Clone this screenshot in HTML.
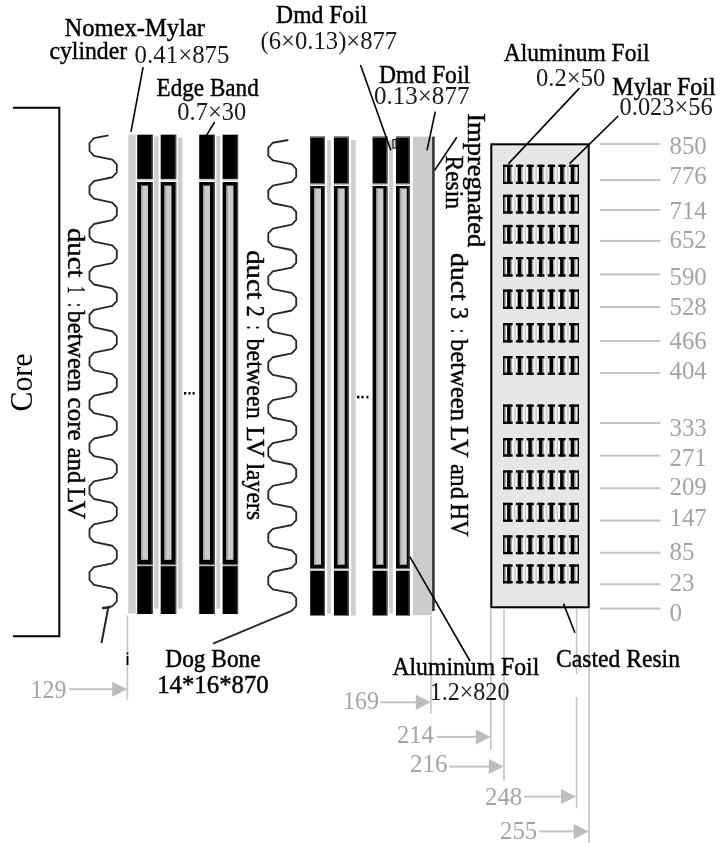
<!DOCTYPE html>
<html><head><meta charset="utf-8"><style>
html,body{margin:0;padding:0;background:#fff;width:723px;height:843px;overflow:hidden}
svg{display:block;filter:grayscale(100%)}

</style></head><body>
<svg width="723" height="843" viewBox="0 0 723 843"><path d="M13 107.7 H59.3 V636.3 H13" fill="none" stroke="#000" stroke-width="2"/>
<text transform="translate(32.4,411.5) rotate(-90)" font-family="Liberation Serif"   font-size="32" textLength="58" lengthAdjust="spacingAndGlyphs">Core</text>
<path d="M108.50 135.30 L94.00 138.20 L89.50 143.00 L89.50 151.00 L94.00 155.80 L112.30 159.65 L116.80 164.45 L116.80 172.45 L112.30 177.25 L94.00 181.10 L89.50 185.90 L89.50 193.90 L94.00 198.70 L112.30 202.55 L116.80 207.35 L116.80 215.35 L112.30 220.15 L94.00 224.00 L89.50 228.80 L89.50 236.80 L94.00 241.60 L112.30 245.45 L116.80 250.25 L116.80 258.25 L112.30 263.05 L94.00 266.90 L89.50 271.70 L89.50 279.70 L94.00 284.50 L112.30 288.35 L116.80 293.15 L116.80 301.15 L112.30 305.95 L94.00 309.80 L89.50 314.60 L89.50 322.60 L94.00 327.40 L112.30 331.25 L116.80 336.05 L116.80 344.05 L112.30 348.85 L94.00 352.70 L89.50 357.50 L89.50 365.50 L94.00 370.30 L112.30 374.15 L116.80 378.95 L116.80 386.95 L112.30 391.75 L94.00 395.60 L89.50 400.40 L89.50 408.40 L94.00 413.20 L112.30 417.05 L116.80 421.85 L116.80 429.85 L112.30 434.65 L94.00 438.50 L89.50 443.30 L89.50 451.30 L94.00 456.10 L112.30 459.95 L116.80 464.75 L116.80 472.75 L112.30 477.55 L94.00 481.40 L89.50 486.20 L89.50 494.20 L94.00 499.00 L112.30 502.85 L116.80 507.65 L116.80 515.65 L112.30 520.45 L94.00 524.30 L89.50 529.10 L89.50 537.10 L94.00 541.90 L112.30 545.75 L116.80 550.55 L116.80 558.55 L112.30 563.35 L94.00 567.20 L89.50 572.00 L89.50 580.00 L94.00 584.80 L112.30 588.65 L116.80 593.45 L116.80 601.45 L112.30 606.25 L102.3 608.5" fill="none" stroke="#262626" stroke-width="1.8" stroke-linejoin="round"/>
<path d="M102.3 607.8 H109.8 M108 609 L101.5 643" fill="none" stroke="#222" stroke-width="2"/>
<path d="M288.30 140.00 L272.80 142.75 L268.30 147.55 L268.30 155.55 L272.80 160.35 L291.70 164.20 L296.20 169.00 L296.20 177.00 L291.70 181.80 L272.80 185.65 L268.30 190.45 L268.30 198.45 L272.80 203.25 L291.70 207.10 L296.20 211.90 L296.20 219.90 L291.70 224.70 L272.80 228.55 L268.30 233.35 L268.30 241.35 L272.80 246.15 L291.70 250.00 L296.20 254.80 L296.20 262.80 L291.70 267.60 L272.80 271.45 L268.30 276.25 L268.30 284.25 L272.80 289.05 L291.70 292.90 L296.20 297.70 L296.20 305.70 L291.70 310.50 L272.80 314.35 L268.30 319.15 L268.30 327.15 L272.80 331.95 L291.70 335.80 L296.20 340.60 L296.20 348.60 L291.70 353.40 L272.80 357.25 L268.30 362.05 L268.30 370.05 L272.80 374.85 L291.70 378.70 L296.20 383.50 L296.20 391.50 L291.70 396.30 L272.80 400.15 L268.30 404.95 L268.30 412.95 L272.80 417.75 L291.70 421.60 L296.20 426.40 L296.20 434.40 L291.70 439.20 L272.80 443.05 L268.30 447.85 L268.30 455.85 L272.80 460.65 L291.70 464.50 L296.20 469.30 L296.20 477.30 L291.70 482.10 L272.80 485.95 L268.30 490.75 L268.30 498.75 L272.80 503.55 L291.70 507.40 L296.20 512.20 L296.20 520.20 L291.70 525.00 L272.80 528.85 L268.30 533.65 L268.30 541.65 L272.80 546.45 L291.70 550.30 L296.20 555.10 L296.20 563.10 L291.70 567.90 L272.80 571.75 L268.30 576.55 L268.30 584.55 L272.80 589.35 L291.70 593.20 L296.20 598.00 L296.20 606.00 L291.70 610.80 L213 643.7" fill="none" stroke="#262626" stroke-width="1.8" stroke-linejoin="round"/>
<rect x="128.2" y="134.7" width="7.6" height="478.9" fill="#cecece"/>
<rect x="137.2" y="134.7" width="15.5" height="44.2" fill="#000"/>
<rect x="137.2" y="182.0" width="15.5" height="382.7" fill="#000"/>
<rect x="137.2" y="566.1" width="15.5" height="47.9" fill="#000"/>
<rect x="141.0" y="185.6" width="7.0" height="374.2" fill="#cacaca"/>
<rect x="141.0" y="185.6" width="1.6" height="374.2" fill="#a4a4a4"/>
<rect x="151.4" y="134.7" width="1.3" height="44.2" fill="#4a4a4a"/>
<rect x="151.4" y="182.0" width="1.3" height="382.7" fill="#4a4a4a"/>
<rect x="151.4" y="566.1" width="1.3" height="47.9" fill="#4a4a4a"/>
<rect x="137.2" y="179.2" width="15.5" height="1.3" fill="#bbb"/>
<rect x="137.2" y="564.8" width="15.5" height="1.3" fill="#bbb"/>
<rect x="160.7" y="134.7" width="15.5" height="44.2" fill="#000"/>
<rect x="160.7" y="182.0" width="15.5" height="382.7" fill="#000"/>
<rect x="160.7" y="566.1" width="15.5" height="47.9" fill="#000"/>
<rect x="164.5" y="185.6" width="7.0" height="374.2" fill="#cacaca"/>
<rect x="164.5" y="185.6" width="1.6" height="374.2" fill="#a4a4a4"/>
<rect x="174.9" y="134.7" width="1.3" height="44.2" fill="#4a4a4a"/>
<rect x="174.9" y="182.0" width="1.3" height="382.7" fill="#4a4a4a"/>
<rect x="174.9" y="566.1" width="1.3" height="47.9" fill="#4a4a4a"/>
<rect x="160.7" y="179.2" width="15.5" height="1.3" fill="#bbb"/>
<rect x="160.7" y="564.8" width="15.5" height="1.3" fill="#bbb"/>
<rect x="199.2" y="134.7" width="15.5" height="44.2" fill="#000"/>
<rect x="199.2" y="182.0" width="15.5" height="382.7" fill="#000"/>
<rect x="199.2" y="566.1" width="15.5" height="47.9" fill="#000"/>
<rect x="203.0" y="185.6" width="7.0" height="374.2" fill="#cacaca"/>
<rect x="203.0" y="185.6" width="1.6" height="374.2" fill="#a4a4a4"/>
<rect x="213.4" y="134.7" width="1.3" height="44.2" fill="#4a4a4a"/>
<rect x="213.4" y="182.0" width="1.3" height="382.7" fill="#4a4a4a"/>
<rect x="213.4" y="566.1" width="1.3" height="47.9" fill="#4a4a4a"/>
<rect x="199.2" y="179.2" width="15.5" height="1.3" fill="#bbb"/>
<rect x="199.2" y="564.8" width="15.5" height="1.3" fill="#bbb"/>
<rect x="222.6" y="134.7" width="15.5" height="44.2" fill="#000"/>
<rect x="222.6" y="182.0" width="15.5" height="382.7" fill="#000"/>
<rect x="222.6" y="566.1" width="15.5" height="47.9" fill="#000"/>
<rect x="226.4" y="185.6" width="7.0" height="374.2" fill="#cacaca"/>
<rect x="226.4" y="185.6" width="1.6" height="374.2" fill="#a4a4a4"/>
<rect x="236.8" y="134.7" width="1.3" height="44.2" fill="#4a4a4a"/>
<rect x="236.8" y="182.0" width="1.3" height="382.7" fill="#4a4a4a"/>
<rect x="236.8" y="566.1" width="1.3" height="47.9" fill="#4a4a4a"/>
<rect x="222.6" y="179.2" width="15.5" height="1.3" fill="#bbb"/>
<rect x="222.6" y="564.8" width="15.5" height="1.3" fill="#bbb"/>
<rect x="154.2" y="136.4" width="4.4" height="472.3" fill="#cecece"/>
<rect x="177.8" y="137.6" width="4.6" height="471.1" fill="#cecece"/>
<rect x="216.3" y="136.1" width="4.0" height="472.6" fill="#cecece"/>
<g fill="#000"><rect x="184" y="392" width="2.2" height="2.6"/><rect x="188.5" y="392" width="2" height="2.6"/><rect x="192.6" y="392" width="2" height="2.6"/></g>
<rect x="310.2" y="136.6" width="14.8" height="47.0" fill="#000"/>
<rect x="310.2" y="186.0" width="14.8" height="382.6" fill="#000"/>
<rect x="310.2" y="570.8" width="14.8" height="44.7" fill="#000"/>
<rect x="314.0" y="188.4" width="7.0" height="376.3" fill="#cacaca"/>
<rect x="314.0" y="188.4" width="1.6" height="376.3" fill="#a4a4a4"/>
<rect x="323.7" y="136.6" width="1.3" height="47.0" fill="#4a4a4a"/>
<rect x="323.7" y="186.0" width="1.3" height="382.6" fill="#4a4a4a"/>
<rect x="323.7" y="570.8" width="1.3" height="44.7" fill="#4a4a4a"/>
<rect x="310.2" y="183.9" width="14.8" height="1.3" fill="#bbb"/>
<rect x="310.2" y="569.5" width="14.8" height="1.3" fill="#bbb"/>
<rect x="333.9" y="136.6" width="14.8" height="47.0" fill="#000"/>
<rect x="333.9" y="186.0" width="14.8" height="382.6" fill="#000"/>
<rect x="333.9" y="570.8" width="14.8" height="44.7" fill="#000"/>
<rect x="337.7" y="188.4" width="7.0" height="376.3" fill="#cacaca"/>
<rect x="337.7" y="188.4" width="1.6" height="376.3" fill="#a4a4a4"/>
<rect x="347.4" y="136.6" width="1.3" height="47.0" fill="#4a4a4a"/>
<rect x="347.4" y="186.0" width="1.3" height="382.6" fill="#4a4a4a"/>
<rect x="347.4" y="570.8" width="1.3" height="44.7" fill="#4a4a4a"/>
<rect x="333.9" y="183.9" width="14.8" height="1.3" fill="#bbb"/>
<rect x="333.9" y="569.5" width="14.8" height="1.3" fill="#bbb"/>
<rect x="372.6" y="136.6" width="14.8" height="47.0" fill="#000"/>
<rect x="372.6" y="186.0" width="14.8" height="382.6" fill="#000"/>
<rect x="372.6" y="570.8" width="14.8" height="44.7" fill="#000"/>
<rect x="376.4" y="188.4" width="7.0" height="376.3" fill="#cacaca"/>
<rect x="376.4" y="188.4" width="1.6" height="376.3" fill="#a4a4a4"/>
<rect x="386.1" y="136.6" width="1.3" height="47.0" fill="#4a4a4a"/>
<rect x="386.1" y="186.0" width="1.3" height="382.6" fill="#4a4a4a"/>
<rect x="386.1" y="570.8" width="1.3" height="44.7" fill="#4a4a4a"/>
<rect x="372.6" y="183.9" width="14.8" height="1.3" fill="#bbb"/>
<rect x="372.6" y="569.5" width="14.8" height="1.3" fill="#bbb"/>
<rect x="396.0" y="136.6" width="13.8" height="47.0" fill="#000"/>
<rect x="396.0" y="186.0" width="13.8" height="382.6" fill="#000"/>
<rect x="396.0" y="570.8" width="13.8" height="44.7" fill="#000"/>
<rect x="399.8" y="188.4" width="7.0" height="376.3" fill="#cacaca"/>
<rect x="399.8" y="188.4" width="1.6" height="376.3" fill="#a4a4a4"/>
<rect x="408.5" y="136.6" width="1.3" height="47.0" fill="#4a4a4a"/>
<rect x="408.5" y="186.0" width="1.3" height="382.6" fill="#4a4a4a"/>
<rect x="408.5" y="570.8" width="1.3" height="44.7" fill="#4a4a4a"/>
<rect x="396.0" y="183.9" width="13.8" height="1.3" fill="#bbb"/>
<rect x="396.0" y="569.5" width="13.8" height="1.3" fill="#bbb"/>
<rect x="310.2" y="136.3" width="14.8" height="1.5" fill="#808080"/>
<rect x="333.9" y="136.3" width="14.8" height="1.5" fill="#808080"/>
<rect x="372.6" y="136.3" width="14.8" height="1.5" fill="#808080"/>
<rect x="396.0" y="136.3" width="13.8" height="1.5" fill="#808080"/>
<rect x="327.1" y="140.0" width="3.9" height="473.6" fill="#cecece"/>
<rect x="351.1" y="140.0" width="4.6" height="475.5" fill="#cecece"/>
<rect x="389.1" y="140.0" width="3.8" height="473.6" fill="#cecece"/>
<g fill="#000"><rect x="357" y="395.8" width="2.4" height="2.6"/><rect x="361.3" y="395.8" width="2.2" height="2.6"/><rect x="366.4" y="395.8" width="2" height="2.6"/></g>
<rect x="392.9" y="139.5" width="3.2" height="8.6" fill="#ccc" stroke="#000" stroke-width="1"/>
<rect x="412.9" y="136.6" width="19.2" height="478.7" fill="#cbcbcb"/>
<rect x="432.1" y="136.6" width="2.6" height="474.4" fill="#333"/>
<rect x="491.3" y="144.3" width="97.4" height="463" fill="#e6e6e6" stroke="#000" stroke-width="2"/>
<rect x="503.1" y="164.7" width="75.9" height="19.3" fill="#f3f3f3"/>
<rect x="504.5" y="164.7" width="1.6" height="19.3" fill="#b4b4b4"/>
<rect x="503.1" y="164.7" width="1.4" height="19.3" fill="#000"/>
<rect x="577.6" y="164.7" width="1.4" height="19.3" fill="#000"/>
<rect x="514.1" y="164.7" width="1.6" height="19.3" fill="#cdcdcd"/>
<rect x="510.6" y="164.7" width="1.4" height="19.3" fill="#a6a6a6"/>
<rect x="507.1" y="164.7" width="3.5" height="19.3" fill="#000"/>
<rect x="503.1" y="164.7" width="9.6" height="2.3" fill="#000"/>
<rect x="503.1" y="181.7" width="9.6" height="2.3" fill="#000"/>
<rect x="524.7" y="164.7" width="1.6" height="19.3" fill="#cdcdcd"/>
<rect x="521.2" y="164.7" width="1.4" height="19.3" fill="#a6a6a6"/>
<rect x="517.7" y="164.7" width="3.5" height="19.3" fill="#000"/>
<rect x="516.0" y="164.7" width="7.3" height="2.3" fill="#000"/>
<rect x="516.0" y="181.7" width="7.3" height="2.3" fill="#000"/>
<rect x="535.3" y="164.7" width="1.6" height="19.3" fill="#cdcdcd"/>
<rect x="531.8" y="164.7" width="1.4" height="19.3" fill="#a6a6a6"/>
<rect x="528.3" y="164.7" width="3.5" height="19.3" fill="#000"/>
<rect x="526.6" y="164.7" width="7.3" height="2.3" fill="#000"/>
<rect x="526.6" y="181.7" width="7.3" height="2.3" fill="#000"/>
<rect x="545.9" y="164.7" width="1.6" height="19.3" fill="#cdcdcd"/>
<rect x="542.4" y="164.7" width="1.4" height="19.3" fill="#a6a6a6"/>
<rect x="538.9" y="164.7" width="3.5" height="19.3" fill="#000"/>
<rect x="537.2" y="164.7" width="7.3" height="2.3" fill="#000"/>
<rect x="537.2" y="181.7" width="7.3" height="2.3" fill="#000"/>
<rect x="556.5" y="164.7" width="1.6" height="19.3" fill="#cdcdcd"/>
<rect x="553.0" y="164.7" width="1.4" height="19.3" fill="#a6a6a6"/>
<rect x="549.5" y="164.7" width="3.5" height="19.3" fill="#000"/>
<rect x="547.8" y="164.7" width="7.3" height="2.3" fill="#000"/>
<rect x="547.8" y="181.7" width="7.3" height="2.3" fill="#000"/>
<rect x="567.1" y="164.7" width="1.6" height="19.3" fill="#cdcdcd"/>
<rect x="563.6" y="164.7" width="1.4" height="19.3" fill="#a6a6a6"/>
<rect x="560.1" y="164.7" width="3.5" height="19.3" fill="#000"/>
<rect x="558.4" y="164.7" width="7.3" height="2.3" fill="#000"/>
<rect x="558.4" y="181.7" width="7.3" height="2.3" fill="#000"/>
<rect x="574.2" y="164.7" width="1.4" height="19.3" fill="#a6a6a6"/>
<rect x="570.7" y="164.7" width="3.5" height="19.3" fill="#000"/>
<rect x="569.0" y="164.7" width="10.0" height="2.3" fill="#000"/>
<rect x="569.0" y="181.7" width="10.0" height="2.3" fill="#000"/>
<rect x="503.1" y="194.7" width="75.9" height="18.9" fill="#f3f3f3"/>
<rect x="504.5" y="194.7" width="1.6" height="18.9" fill="#b4b4b4"/>
<rect x="503.1" y="194.7" width="1.4" height="18.9" fill="#000"/>
<rect x="577.6" y="194.7" width="1.4" height="18.9" fill="#000"/>
<rect x="514.1" y="194.7" width="1.6" height="18.9" fill="#cdcdcd"/>
<rect x="510.6" y="194.7" width="1.4" height="18.9" fill="#a6a6a6"/>
<rect x="507.1" y="194.7" width="3.5" height="18.9" fill="#000"/>
<rect x="503.1" y="194.7" width="9.6" height="2.3" fill="#000"/>
<rect x="503.1" y="211.3" width="9.6" height="2.3" fill="#000"/>
<rect x="524.7" y="194.7" width="1.6" height="18.9" fill="#cdcdcd"/>
<rect x="521.2" y="194.7" width="1.4" height="18.9" fill="#a6a6a6"/>
<rect x="517.7" y="194.7" width="3.5" height="18.9" fill="#000"/>
<rect x="516.0" y="194.7" width="7.3" height="2.3" fill="#000"/>
<rect x="516.0" y="211.3" width="7.3" height="2.3" fill="#000"/>
<rect x="535.3" y="194.7" width="1.6" height="18.9" fill="#cdcdcd"/>
<rect x="531.8" y="194.7" width="1.4" height="18.9" fill="#a6a6a6"/>
<rect x="528.3" y="194.7" width="3.5" height="18.9" fill="#000"/>
<rect x="526.6" y="194.7" width="7.3" height="2.3" fill="#000"/>
<rect x="526.6" y="211.3" width="7.3" height="2.3" fill="#000"/>
<rect x="545.9" y="194.7" width="1.6" height="18.9" fill="#cdcdcd"/>
<rect x="542.4" y="194.7" width="1.4" height="18.9" fill="#a6a6a6"/>
<rect x="538.9" y="194.7" width="3.5" height="18.9" fill="#000"/>
<rect x="537.2" y="194.7" width="7.3" height="2.3" fill="#000"/>
<rect x="537.2" y="211.3" width="7.3" height="2.3" fill="#000"/>
<rect x="556.5" y="194.7" width="1.6" height="18.9" fill="#cdcdcd"/>
<rect x="553.0" y="194.7" width="1.4" height="18.9" fill="#a6a6a6"/>
<rect x="549.5" y="194.7" width="3.5" height="18.9" fill="#000"/>
<rect x="547.8" y="194.7" width="7.3" height="2.3" fill="#000"/>
<rect x="547.8" y="211.3" width="7.3" height="2.3" fill="#000"/>
<rect x="567.1" y="194.7" width="1.6" height="18.9" fill="#cdcdcd"/>
<rect x="563.6" y="194.7" width="1.4" height="18.9" fill="#a6a6a6"/>
<rect x="560.1" y="194.7" width="3.5" height="18.9" fill="#000"/>
<rect x="558.4" y="194.7" width="7.3" height="2.3" fill="#000"/>
<rect x="558.4" y="211.3" width="7.3" height="2.3" fill="#000"/>
<rect x="574.2" y="194.7" width="1.4" height="18.9" fill="#a6a6a6"/>
<rect x="570.7" y="194.7" width="3.5" height="18.9" fill="#000"/>
<rect x="569.0" y="194.7" width="10.0" height="2.3" fill="#000"/>
<rect x="569.0" y="211.3" width="10.0" height="2.3" fill="#000"/>
<rect x="503.1" y="224.9" width="75.9" height="18.7" fill="#f3f3f3"/>
<rect x="504.5" y="224.9" width="1.6" height="18.7" fill="#b4b4b4"/>
<rect x="503.1" y="224.9" width="1.4" height="18.7" fill="#000"/>
<rect x="577.6" y="224.9" width="1.4" height="18.7" fill="#000"/>
<rect x="514.1" y="224.9" width="1.6" height="18.7" fill="#cdcdcd"/>
<rect x="510.6" y="224.9" width="1.4" height="18.7" fill="#a6a6a6"/>
<rect x="507.1" y="224.9" width="3.5" height="18.7" fill="#000"/>
<rect x="503.1" y="224.9" width="9.6" height="2.3" fill="#000"/>
<rect x="503.1" y="241.3" width="9.6" height="2.3" fill="#000"/>
<rect x="524.7" y="224.9" width="1.6" height="18.7" fill="#cdcdcd"/>
<rect x="521.2" y="224.9" width="1.4" height="18.7" fill="#a6a6a6"/>
<rect x="517.7" y="224.9" width="3.5" height="18.7" fill="#000"/>
<rect x="516.0" y="224.9" width="7.3" height="2.3" fill="#000"/>
<rect x="516.0" y="241.3" width="7.3" height="2.3" fill="#000"/>
<rect x="535.3" y="224.9" width="1.6" height="18.7" fill="#cdcdcd"/>
<rect x="531.8" y="224.9" width="1.4" height="18.7" fill="#a6a6a6"/>
<rect x="528.3" y="224.9" width="3.5" height="18.7" fill="#000"/>
<rect x="526.6" y="224.9" width="7.3" height="2.3" fill="#000"/>
<rect x="526.6" y="241.3" width="7.3" height="2.3" fill="#000"/>
<rect x="545.9" y="224.9" width="1.6" height="18.7" fill="#cdcdcd"/>
<rect x="542.4" y="224.9" width="1.4" height="18.7" fill="#a6a6a6"/>
<rect x="538.9" y="224.9" width="3.5" height="18.7" fill="#000"/>
<rect x="537.2" y="224.9" width="7.3" height="2.3" fill="#000"/>
<rect x="537.2" y="241.3" width="7.3" height="2.3" fill="#000"/>
<rect x="556.5" y="224.9" width="1.6" height="18.7" fill="#cdcdcd"/>
<rect x="553.0" y="224.9" width="1.4" height="18.7" fill="#a6a6a6"/>
<rect x="549.5" y="224.9" width="3.5" height="18.7" fill="#000"/>
<rect x="547.8" y="224.9" width="7.3" height="2.3" fill="#000"/>
<rect x="547.8" y="241.3" width="7.3" height="2.3" fill="#000"/>
<rect x="567.1" y="224.9" width="1.6" height="18.7" fill="#cdcdcd"/>
<rect x="563.6" y="224.9" width="1.4" height="18.7" fill="#a6a6a6"/>
<rect x="560.1" y="224.9" width="3.5" height="18.7" fill="#000"/>
<rect x="558.4" y="224.9" width="7.3" height="2.3" fill="#000"/>
<rect x="558.4" y="241.3" width="7.3" height="2.3" fill="#000"/>
<rect x="574.2" y="224.9" width="1.4" height="18.7" fill="#a6a6a6"/>
<rect x="570.7" y="224.9" width="3.5" height="18.7" fill="#000"/>
<rect x="569.0" y="224.9" width="10.0" height="2.3" fill="#000"/>
<rect x="569.0" y="241.3" width="10.0" height="2.3" fill="#000"/>
<rect x="503.1" y="257.0" width="75.9" height="19.6" fill="#f3f3f3"/>
<rect x="504.5" y="257.0" width="1.6" height="19.6" fill="#b4b4b4"/>
<rect x="503.1" y="257.0" width="1.4" height="19.6" fill="#000"/>
<rect x="577.6" y="257.0" width="1.4" height="19.6" fill="#000"/>
<rect x="514.1" y="257.0" width="1.6" height="19.6" fill="#cdcdcd"/>
<rect x="510.6" y="257.0" width="1.4" height="19.6" fill="#a6a6a6"/>
<rect x="507.1" y="257.0" width="3.5" height="19.6" fill="#000"/>
<rect x="503.1" y="257.0" width="9.6" height="2.3" fill="#000"/>
<rect x="503.1" y="274.3" width="9.6" height="2.3" fill="#000"/>
<rect x="524.7" y="257.0" width="1.6" height="19.6" fill="#cdcdcd"/>
<rect x="521.2" y="257.0" width="1.4" height="19.6" fill="#a6a6a6"/>
<rect x="517.7" y="257.0" width="3.5" height="19.6" fill="#000"/>
<rect x="516.0" y="257.0" width="7.3" height="2.3" fill="#000"/>
<rect x="516.0" y="274.3" width="7.3" height="2.3" fill="#000"/>
<rect x="535.3" y="257.0" width="1.6" height="19.6" fill="#cdcdcd"/>
<rect x="531.8" y="257.0" width="1.4" height="19.6" fill="#a6a6a6"/>
<rect x="528.3" y="257.0" width="3.5" height="19.6" fill="#000"/>
<rect x="526.6" y="257.0" width="7.3" height="2.3" fill="#000"/>
<rect x="526.6" y="274.3" width="7.3" height="2.3" fill="#000"/>
<rect x="545.9" y="257.0" width="1.6" height="19.6" fill="#cdcdcd"/>
<rect x="542.4" y="257.0" width="1.4" height="19.6" fill="#a6a6a6"/>
<rect x="538.9" y="257.0" width="3.5" height="19.6" fill="#000"/>
<rect x="537.2" y="257.0" width="7.3" height="2.3" fill="#000"/>
<rect x="537.2" y="274.3" width="7.3" height="2.3" fill="#000"/>
<rect x="556.5" y="257.0" width="1.6" height="19.6" fill="#cdcdcd"/>
<rect x="553.0" y="257.0" width="1.4" height="19.6" fill="#a6a6a6"/>
<rect x="549.5" y="257.0" width="3.5" height="19.6" fill="#000"/>
<rect x="547.8" y="257.0" width="7.3" height="2.3" fill="#000"/>
<rect x="547.8" y="274.3" width="7.3" height="2.3" fill="#000"/>
<rect x="567.1" y="257.0" width="1.6" height="19.6" fill="#cdcdcd"/>
<rect x="563.6" y="257.0" width="1.4" height="19.6" fill="#a6a6a6"/>
<rect x="560.1" y="257.0" width="3.5" height="19.6" fill="#000"/>
<rect x="558.4" y="257.0" width="7.3" height="2.3" fill="#000"/>
<rect x="558.4" y="274.3" width="7.3" height="2.3" fill="#000"/>
<rect x="574.2" y="257.0" width="1.4" height="19.6" fill="#a6a6a6"/>
<rect x="570.7" y="257.0" width="3.5" height="19.6" fill="#000"/>
<rect x="569.0" y="257.0" width="10.0" height="2.3" fill="#000"/>
<rect x="569.0" y="274.3" width="10.0" height="2.3" fill="#000"/>
<rect x="503.1" y="289.5" width="75.9" height="19.5" fill="#f3f3f3"/>
<rect x="504.5" y="289.5" width="1.6" height="19.5" fill="#b4b4b4"/>
<rect x="503.1" y="289.5" width="1.4" height="19.5" fill="#000"/>
<rect x="577.6" y="289.5" width="1.4" height="19.5" fill="#000"/>
<rect x="514.1" y="289.5" width="1.6" height="19.5" fill="#cdcdcd"/>
<rect x="510.6" y="289.5" width="1.4" height="19.5" fill="#a6a6a6"/>
<rect x="507.1" y="289.5" width="3.5" height="19.5" fill="#000"/>
<rect x="503.1" y="289.5" width="9.6" height="2.3" fill="#000"/>
<rect x="503.1" y="306.7" width="9.6" height="2.3" fill="#000"/>
<rect x="524.7" y="289.5" width="1.6" height="19.5" fill="#cdcdcd"/>
<rect x="521.2" y="289.5" width="1.4" height="19.5" fill="#a6a6a6"/>
<rect x="517.7" y="289.5" width="3.5" height="19.5" fill="#000"/>
<rect x="516.0" y="289.5" width="7.3" height="2.3" fill="#000"/>
<rect x="516.0" y="306.7" width="7.3" height="2.3" fill="#000"/>
<rect x="535.3" y="289.5" width="1.6" height="19.5" fill="#cdcdcd"/>
<rect x="531.8" y="289.5" width="1.4" height="19.5" fill="#a6a6a6"/>
<rect x="528.3" y="289.5" width="3.5" height="19.5" fill="#000"/>
<rect x="526.6" y="289.5" width="7.3" height="2.3" fill="#000"/>
<rect x="526.6" y="306.7" width="7.3" height="2.3" fill="#000"/>
<rect x="545.9" y="289.5" width="1.6" height="19.5" fill="#cdcdcd"/>
<rect x="542.4" y="289.5" width="1.4" height="19.5" fill="#a6a6a6"/>
<rect x="538.9" y="289.5" width="3.5" height="19.5" fill="#000"/>
<rect x="537.2" y="289.5" width="7.3" height="2.3" fill="#000"/>
<rect x="537.2" y="306.7" width="7.3" height="2.3" fill="#000"/>
<rect x="556.5" y="289.5" width="1.6" height="19.5" fill="#cdcdcd"/>
<rect x="553.0" y="289.5" width="1.4" height="19.5" fill="#a6a6a6"/>
<rect x="549.5" y="289.5" width="3.5" height="19.5" fill="#000"/>
<rect x="547.8" y="289.5" width="7.3" height="2.3" fill="#000"/>
<rect x="547.8" y="306.7" width="7.3" height="2.3" fill="#000"/>
<rect x="567.1" y="289.5" width="1.6" height="19.5" fill="#cdcdcd"/>
<rect x="563.6" y="289.5" width="1.4" height="19.5" fill="#a6a6a6"/>
<rect x="560.1" y="289.5" width="3.5" height="19.5" fill="#000"/>
<rect x="558.4" y="289.5" width="7.3" height="2.3" fill="#000"/>
<rect x="558.4" y="306.7" width="7.3" height="2.3" fill="#000"/>
<rect x="574.2" y="289.5" width="1.4" height="19.5" fill="#a6a6a6"/>
<rect x="570.7" y="289.5" width="3.5" height="19.5" fill="#000"/>
<rect x="569.0" y="289.5" width="10.0" height="2.3" fill="#000"/>
<rect x="569.0" y="306.7" width="10.0" height="2.3" fill="#000"/>
<rect x="503.1" y="323.1" width="75.9" height="19.4" fill="#f3f3f3"/>
<rect x="504.5" y="323.1" width="1.6" height="19.4" fill="#b4b4b4"/>
<rect x="503.1" y="323.1" width="1.4" height="19.4" fill="#000"/>
<rect x="577.6" y="323.1" width="1.4" height="19.4" fill="#000"/>
<rect x="514.1" y="323.1" width="1.6" height="19.4" fill="#cdcdcd"/>
<rect x="510.6" y="323.1" width="1.4" height="19.4" fill="#a6a6a6"/>
<rect x="507.1" y="323.1" width="3.5" height="19.4" fill="#000"/>
<rect x="503.1" y="323.1" width="9.6" height="2.3" fill="#000"/>
<rect x="503.1" y="340.2" width="9.6" height="2.3" fill="#000"/>
<rect x="524.7" y="323.1" width="1.6" height="19.4" fill="#cdcdcd"/>
<rect x="521.2" y="323.1" width="1.4" height="19.4" fill="#a6a6a6"/>
<rect x="517.7" y="323.1" width="3.5" height="19.4" fill="#000"/>
<rect x="516.0" y="323.1" width="7.3" height="2.3" fill="#000"/>
<rect x="516.0" y="340.2" width="7.3" height="2.3" fill="#000"/>
<rect x="535.3" y="323.1" width="1.6" height="19.4" fill="#cdcdcd"/>
<rect x="531.8" y="323.1" width="1.4" height="19.4" fill="#a6a6a6"/>
<rect x="528.3" y="323.1" width="3.5" height="19.4" fill="#000"/>
<rect x="526.6" y="323.1" width="7.3" height="2.3" fill="#000"/>
<rect x="526.6" y="340.2" width="7.3" height="2.3" fill="#000"/>
<rect x="545.9" y="323.1" width="1.6" height="19.4" fill="#cdcdcd"/>
<rect x="542.4" y="323.1" width="1.4" height="19.4" fill="#a6a6a6"/>
<rect x="538.9" y="323.1" width="3.5" height="19.4" fill="#000"/>
<rect x="537.2" y="323.1" width="7.3" height="2.3" fill="#000"/>
<rect x="537.2" y="340.2" width="7.3" height="2.3" fill="#000"/>
<rect x="556.5" y="323.1" width="1.6" height="19.4" fill="#cdcdcd"/>
<rect x="553.0" y="323.1" width="1.4" height="19.4" fill="#a6a6a6"/>
<rect x="549.5" y="323.1" width="3.5" height="19.4" fill="#000"/>
<rect x="547.8" y="323.1" width="7.3" height="2.3" fill="#000"/>
<rect x="547.8" y="340.2" width="7.3" height="2.3" fill="#000"/>
<rect x="567.1" y="323.1" width="1.6" height="19.4" fill="#cdcdcd"/>
<rect x="563.6" y="323.1" width="1.4" height="19.4" fill="#a6a6a6"/>
<rect x="560.1" y="323.1" width="3.5" height="19.4" fill="#000"/>
<rect x="558.4" y="323.1" width="7.3" height="2.3" fill="#000"/>
<rect x="558.4" y="340.2" width="7.3" height="2.3" fill="#000"/>
<rect x="574.2" y="323.1" width="1.4" height="19.4" fill="#a6a6a6"/>
<rect x="570.7" y="323.1" width="3.5" height="19.4" fill="#000"/>
<rect x="569.0" y="323.1" width="10.0" height="2.3" fill="#000"/>
<rect x="569.0" y="340.2" width="10.0" height="2.3" fill="#000"/>
<rect x="503.1" y="356.0" width="75.9" height="18.9" fill="#f3f3f3"/>
<rect x="504.5" y="356.0" width="1.6" height="18.9" fill="#b4b4b4"/>
<rect x="503.1" y="356.0" width="1.4" height="18.9" fill="#000"/>
<rect x="577.6" y="356.0" width="1.4" height="18.9" fill="#000"/>
<rect x="514.1" y="356.0" width="1.6" height="18.9" fill="#cdcdcd"/>
<rect x="510.6" y="356.0" width="1.4" height="18.9" fill="#a6a6a6"/>
<rect x="507.1" y="356.0" width="3.5" height="18.9" fill="#000"/>
<rect x="503.1" y="356.0" width="9.6" height="2.3" fill="#000"/>
<rect x="503.1" y="372.6" width="9.6" height="2.3" fill="#000"/>
<rect x="524.7" y="356.0" width="1.6" height="18.9" fill="#cdcdcd"/>
<rect x="521.2" y="356.0" width="1.4" height="18.9" fill="#a6a6a6"/>
<rect x="517.7" y="356.0" width="3.5" height="18.9" fill="#000"/>
<rect x="516.0" y="356.0" width="7.3" height="2.3" fill="#000"/>
<rect x="516.0" y="372.6" width="7.3" height="2.3" fill="#000"/>
<rect x="535.3" y="356.0" width="1.6" height="18.9" fill="#cdcdcd"/>
<rect x="531.8" y="356.0" width="1.4" height="18.9" fill="#a6a6a6"/>
<rect x="528.3" y="356.0" width="3.5" height="18.9" fill="#000"/>
<rect x="526.6" y="356.0" width="7.3" height="2.3" fill="#000"/>
<rect x="526.6" y="372.6" width="7.3" height="2.3" fill="#000"/>
<rect x="545.9" y="356.0" width="1.6" height="18.9" fill="#cdcdcd"/>
<rect x="542.4" y="356.0" width="1.4" height="18.9" fill="#a6a6a6"/>
<rect x="538.9" y="356.0" width="3.5" height="18.9" fill="#000"/>
<rect x="537.2" y="356.0" width="7.3" height="2.3" fill="#000"/>
<rect x="537.2" y="372.6" width="7.3" height="2.3" fill="#000"/>
<rect x="556.5" y="356.0" width="1.6" height="18.9" fill="#cdcdcd"/>
<rect x="553.0" y="356.0" width="1.4" height="18.9" fill="#a6a6a6"/>
<rect x="549.5" y="356.0" width="3.5" height="18.9" fill="#000"/>
<rect x="547.8" y="356.0" width="7.3" height="2.3" fill="#000"/>
<rect x="547.8" y="372.6" width="7.3" height="2.3" fill="#000"/>
<rect x="567.1" y="356.0" width="1.6" height="18.9" fill="#cdcdcd"/>
<rect x="563.6" y="356.0" width="1.4" height="18.9" fill="#a6a6a6"/>
<rect x="560.1" y="356.0" width="3.5" height="18.9" fill="#000"/>
<rect x="558.4" y="356.0" width="7.3" height="2.3" fill="#000"/>
<rect x="558.4" y="372.6" width="7.3" height="2.3" fill="#000"/>
<rect x="574.2" y="356.0" width="1.4" height="18.9" fill="#a6a6a6"/>
<rect x="570.7" y="356.0" width="3.5" height="18.9" fill="#000"/>
<rect x="569.0" y="356.0" width="10.0" height="2.3" fill="#000"/>
<rect x="569.0" y="372.6" width="10.0" height="2.3" fill="#000"/>
<rect x="503.1" y="404.5" width="75.9" height="19.4" fill="#f3f3f3"/>
<rect x="504.5" y="404.5" width="1.6" height="19.4" fill="#b4b4b4"/>
<rect x="503.1" y="404.5" width="1.4" height="19.4" fill="#000"/>
<rect x="577.6" y="404.5" width="1.4" height="19.4" fill="#000"/>
<rect x="514.1" y="404.5" width="1.6" height="19.4" fill="#cdcdcd"/>
<rect x="510.6" y="404.5" width="1.4" height="19.4" fill="#a6a6a6"/>
<rect x="507.1" y="404.5" width="3.5" height="19.4" fill="#000"/>
<rect x="503.1" y="404.5" width="9.6" height="2.3" fill="#000"/>
<rect x="503.1" y="421.6" width="9.6" height="2.3" fill="#000"/>
<rect x="524.7" y="404.5" width="1.6" height="19.4" fill="#cdcdcd"/>
<rect x="521.2" y="404.5" width="1.4" height="19.4" fill="#a6a6a6"/>
<rect x="517.7" y="404.5" width="3.5" height="19.4" fill="#000"/>
<rect x="516.0" y="404.5" width="7.3" height="2.3" fill="#000"/>
<rect x="516.0" y="421.6" width="7.3" height="2.3" fill="#000"/>
<rect x="535.3" y="404.5" width="1.6" height="19.4" fill="#cdcdcd"/>
<rect x="531.8" y="404.5" width="1.4" height="19.4" fill="#a6a6a6"/>
<rect x="528.3" y="404.5" width="3.5" height="19.4" fill="#000"/>
<rect x="526.6" y="404.5" width="7.3" height="2.3" fill="#000"/>
<rect x="526.6" y="421.6" width="7.3" height="2.3" fill="#000"/>
<rect x="545.9" y="404.5" width="1.6" height="19.4" fill="#cdcdcd"/>
<rect x="542.4" y="404.5" width="1.4" height="19.4" fill="#a6a6a6"/>
<rect x="538.9" y="404.5" width="3.5" height="19.4" fill="#000"/>
<rect x="537.2" y="404.5" width="7.3" height="2.3" fill="#000"/>
<rect x="537.2" y="421.6" width="7.3" height="2.3" fill="#000"/>
<rect x="556.5" y="404.5" width="1.6" height="19.4" fill="#cdcdcd"/>
<rect x="553.0" y="404.5" width="1.4" height="19.4" fill="#a6a6a6"/>
<rect x="549.5" y="404.5" width="3.5" height="19.4" fill="#000"/>
<rect x="547.8" y="404.5" width="7.3" height="2.3" fill="#000"/>
<rect x="547.8" y="421.6" width="7.3" height="2.3" fill="#000"/>
<rect x="567.1" y="404.5" width="1.6" height="19.4" fill="#cdcdcd"/>
<rect x="563.6" y="404.5" width="1.4" height="19.4" fill="#a6a6a6"/>
<rect x="560.1" y="404.5" width="3.5" height="19.4" fill="#000"/>
<rect x="558.4" y="404.5" width="7.3" height="2.3" fill="#000"/>
<rect x="558.4" y="421.6" width="7.3" height="2.3" fill="#000"/>
<rect x="574.2" y="404.5" width="1.4" height="19.4" fill="#a6a6a6"/>
<rect x="570.7" y="404.5" width="3.5" height="19.4" fill="#000"/>
<rect x="569.0" y="404.5" width="10.0" height="2.3" fill="#000"/>
<rect x="569.0" y="421.6" width="10.0" height="2.3" fill="#000"/>
<rect x="503.1" y="438.1" width="75.9" height="18.5" fill="#f3f3f3"/>
<rect x="504.5" y="438.1" width="1.6" height="18.5" fill="#b4b4b4"/>
<rect x="503.1" y="438.1" width="1.4" height="18.5" fill="#000"/>
<rect x="577.6" y="438.1" width="1.4" height="18.5" fill="#000"/>
<rect x="514.1" y="438.1" width="1.6" height="18.5" fill="#cdcdcd"/>
<rect x="510.6" y="438.1" width="1.4" height="18.5" fill="#a6a6a6"/>
<rect x="507.1" y="438.1" width="3.5" height="18.5" fill="#000"/>
<rect x="503.1" y="438.1" width="9.6" height="2.3" fill="#000"/>
<rect x="503.1" y="454.3" width="9.6" height="2.3" fill="#000"/>
<rect x="524.7" y="438.1" width="1.6" height="18.5" fill="#cdcdcd"/>
<rect x="521.2" y="438.1" width="1.4" height="18.5" fill="#a6a6a6"/>
<rect x="517.7" y="438.1" width="3.5" height="18.5" fill="#000"/>
<rect x="516.0" y="438.1" width="7.3" height="2.3" fill="#000"/>
<rect x="516.0" y="454.3" width="7.3" height="2.3" fill="#000"/>
<rect x="535.3" y="438.1" width="1.6" height="18.5" fill="#cdcdcd"/>
<rect x="531.8" y="438.1" width="1.4" height="18.5" fill="#a6a6a6"/>
<rect x="528.3" y="438.1" width="3.5" height="18.5" fill="#000"/>
<rect x="526.6" y="438.1" width="7.3" height="2.3" fill="#000"/>
<rect x="526.6" y="454.3" width="7.3" height="2.3" fill="#000"/>
<rect x="545.9" y="438.1" width="1.6" height="18.5" fill="#cdcdcd"/>
<rect x="542.4" y="438.1" width="1.4" height="18.5" fill="#a6a6a6"/>
<rect x="538.9" y="438.1" width="3.5" height="18.5" fill="#000"/>
<rect x="537.2" y="438.1" width="7.3" height="2.3" fill="#000"/>
<rect x="537.2" y="454.3" width="7.3" height="2.3" fill="#000"/>
<rect x="556.5" y="438.1" width="1.6" height="18.5" fill="#cdcdcd"/>
<rect x="553.0" y="438.1" width="1.4" height="18.5" fill="#a6a6a6"/>
<rect x="549.5" y="438.1" width="3.5" height="18.5" fill="#000"/>
<rect x="547.8" y="438.1" width="7.3" height="2.3" fill="#000"/>
<rect x="547.8" y="454.3" width="7.3" height="2.3" fill="#000"/>
<rect x="567.1" y="438.1" width="1.6" height="18.5" fill="#cdcdcd"/>
<rect x="563.6" y="438.1" width="1.4" height="18.5" fill="#a6a6a6"/>
<rect x="560.1" y="438.1" width="3.5" height="18.5" fill="#000"/>
<rect x="558.4" y="438.1" width="7.3" height="2.3" fill="#000"/>
<rect x="558.4" y="454.3" width="7.3" height="2.3" fill="#000"/>
<rect x="574.2" y="438.1" width="1.4" height="18.5" fill="#a6a6a6"/>
<rect x="570.7" y="438.1" width="3.5" height="18.5" fill="#000"/>
<rect x="569.0" y="438.1" width="10.0" height="2.3" fill="#000"/>
<rect x="569.0" y="454.3" width="10.0" height="2.3" fill="#000"/>
<rect x="503.1" y="470.4" width="75.9" height="18.9" fill="#f3f3f3"/>
<rect x="504.5" y="470.4" width="1.6" height="18.9" fill="#b4b4b4"/>
<rect x="503.1" y="470.4" width="1.4" height="18.9" fill="#000"/>
<rect x="577.6" y="470.4" width="1.4" height="18.9" fill="#000"/>
<rect x="514.1" y="470.4" width="1.6" height="18.9" fill="#cdcdcd"/>
<rect x="510.6" y="470.4" width="1.4" height="18.9" fill="#a6a6a6"/>
<rect x="507.1" y="470.4" width="3.5" height="18.9" fill="#000"/>
<rect x="503.1" y="470.4" width="9.6" height="2.3" fill="#000"/>
<rect x="503.1" y="487.0" width="9.6" height="2.3" fill="#000"/>
<rect x="524.7" y="470.4" width="1.6" height="18.9" fill="#cdcdcd"/>
<rect x="521.2" y="470.4" width="1.4" height="18.9" fill="#a6a6a6"/>
<rect x="517.7" y="470.4" width="3.5" height="18.9" fill="#000"/>
<rect x="516.0" y="470.4" width="7.3" height="2.3" fill="#000"/>
<rect x="516.0" y="487.0" width="7.3" height="2.3" fill="#000"/>
<rect x="535.3" y="470.4" width="1.6" height="18.9" fill="#cdcdcd"/>
<rect x="531.8" y="470.4" width="1.4" height="18.9" fill="#a6a6a6"/>
<rect x="528.3" y="470.4" width="3.5" height="18.9" fill="#000"/>
<rect x="526.6" y="470.4" width="7.3" height="2.3" fill="#000"/>
<rect x="526.6" y="487.0" width="7.3" height="2.3" fill="#000"/>
<rect x="545.9" y="470.4" width="1.6" height="18.9" fill="#cdcdcd"/>
<rect x="542.4" y="470.4" width="1.4" height="18.9" fill="#a6a6a6"/>
<rect x="538.9" y="470.4" width="3.5" height="18.9" fill="#000"/>
<rect x="537.2" y="470.4" width="7.3" height="2.3" fill="#000"/>
<rect x="537.2" y="487.0" width="7.3" height="2.3" fill="#000"/>
<rect x="556.5" y="470.4" width="1.6" height="18.9" fill="#cdcdcd"/>
<rect x="553.0" y="470.4" width="1.4" height="18.9" fill="#a6a6a6"/>
<rect x="549.5" y="470.4" width="3.5" height="18.9" fill="#000"/>
<rect x="547.8" y="470.4" width="7.3" height="2.3" fill="#000"/>
<rect x="547.8" y="487.0" width="7.3" height="2.3" fill="#000"/>
<rect x="567.1" y="470.4" width="1.6" height="18.9" fill="#cdcdcd"/>
<rect x="563.6" y="470.4" width="1.4" height="18.9" fill="#a6a6a6"/>
<rect x="560.1" y="470.4" width="3.5" height="18.9" fill="#000"/>
<rect x="558.4" y="470.4" width="7.3" height="2.3" fill="#000"/>
<rect x="558.4" y="487.0" width="7.3" height="2.3" fill="#000"/>
<rect x="574.2" y="470.4" width="1.4" height="18.9" fill="#a6a6a6"/>
<rect x="570.7" y="470.4" width="3.5" height="18.9" fill="#000"/>
<rect x="569.0" y="470.4" width="10.0" height="2.3" fill="#000"/>
<rect x="569.0" y="487.0" width="10.0" height="2.3" fill="#000"/>
<rect x="503.1" y="502.8" width="75.9" height="19.0" fill="#f3f3f3"/>
<rect x="504.5" y="502.8" width="1.6" height="19.0" fill="#b4b4b4"/>
<rect x="503.1" y="502.8" width="1.4" height="19.0" fill="#000"/>
<rect x="577.6" y="502.8" width="1.4" height="19.0" fill="#000"/>
<rect x="514.1" y="502.8" width="1.6" height="19.0" fill="#cdcdcd"/>
<rect x="510.6" y="502.8" width="1.4" height="19.0" fill="#a6a6a6"/>
<rect x="507.1" y="502.8" width="3.5" height="19.0" fill="#000"/>
<rect x="503.1" y="502.8" width="9.6" height="2.3" fill="#000"/>
<rect x="503.1" y="519.5" width="9.6" height="2.3" fill="#000"/>
<rect x="524.7" y="502.8" width="1.6" height="19.0" fill="#cdcdcd"/>
<rect x="521.2" y="502.8" width="1.4" height="19.0" fill="#a6a6a6"/>
<rect x="517.7" y="502.8" width="3.5" height="19.0" fill="#000"/>
<rect x="516.0" y="502.8" width="7.3" height="2.3" fill="#000"/>
<rect x="516.0" y="519.5" width="7.3" height="2.3" fill="#000"/>
<rect x="535.3" y="502.8" width="1.6" height="19.0" fill="#cdcdcd"/>
<rect x="531.8" y="502.8" width="1.4" height="19.0" fill="#a6a6a6"/>
<rect x="528.3" y="502.8" width="3.5" height="19.0" fill="#000"/>
<rect x="526.6" y="502.8" width="7.3" height="2.3" fill="#000"/>
<rect x="526.6" y="519.5" width="7.3" height="2.3" fill="#000"/>
<rect x="545.9" y="502.8" width="1.6" height="19.0" fill="#cdcdcd"/>
<rect x="542.4" y="502.8" width="1.4" height="19.0" fill="#a6a6a6"/>
<rect x="538.9" y="502.8" width="3.5" height="19.0" fill="#000"/>
<rect x="537.2" y="502.8" width="7.3" height="2.3" fill="#000"/>
<rect x="537.2" y="519.5" width="7.3" height="2.3" fill="#000"/>
<rect x="556.5" y="502.8" width="1.6" height="19.0" fill="#cdcdcd"/>
<rect x="553.0" y="502.8" width="1.4" height="19.0" fill="#a6a6a6"/>
<rect x="549.5" y="502.8" width="3.5" height="19.0" fill="#000"/>
<rect x="547.8" y="502.8" width="7.3" height="2.3" fill="#000"/>
<rect x="547.8" y="519.5" width="7.3" height="2.3" fill="#000"/>
<rect x="567.1" y="502.8" width="1.6" height="19.0" fill="#cdcdcd"/>
<rect x="563.6" y="502.8" width="1.4" height="19.0" fill="#a6a6a6"/>
<rect x="560.1" y="502.8" width="3.5" height="19.0" fill="#000"/>
<rect x="558.4" y="502.8" width="7.3" height="2.3" fill="#000"/>
<rect x="558.4" y="519.5" width="7.3" height="2.3" fill="#000"/>
<rect x="574.2" y="502.8" width="1.4" height="19.0" fill="#a6a6a6"/>
<rect x="570.7" y="502.8" width="3.5" height="19.0" fill="#000"/>
<rect x="569.0" y="502.8" width="10.0" height="2.3" fill="#000"/>
<rect x="569.0" y="519.5" width="10.0" height="2.3" fill="#000"/>
<rect x="503.1" y="535.3" width="75.9" height="18.9" fill="#f3f3f3"/>
<rect x="504.5" y="535.3" width="1.6" height="18.9" fill="#b4b4b4"/>
<rect x="503.1" y="535.3" width="1.4" height="18.9" fill="#000"/>
<rect x="577.6" y="535.3" width="1.4" height="18.9" fill="#000"/>
<rect x="514.1" y="535.3" width="1.6" height="18.9" fill="#cdcdcd"/>
<rect x="510.6" y="535.3" width="1.4" height="18.9" fill="#a6a6a6"/>
<rect x="507.1" y="535.3" width="3.5" height="18.9" fill="#000"/>
<rect x="503.1" y="535.3" width="9.6" height="2.3" fill="#000"/>
<rect x="503.1" y="551.9" width="9.6" height="2.3" fill="#000"/>
<rect x="524.7" y="535.3" width="1.6" height="18.9" fill="#cdcdcd"/>
<rect x="521.2" y="535.3" width="1.4" height="18.9" fill="#a6a6a6"/>
<rect x="517.7" y="535.3" width="3.5" height="18.9" fill="#000"/>
<rect x="516.0" y="535.3" width="7.3" height="2.3" fill="#000"/>
<rect x="516.0" y="551.9" width="7.3" height="2.3" fill="#000"/>
<rect x="535.3" y="535.3" width="1.6" height="18.9" fill="#cdcdcd"/>
<rect x="531.8" y="535.3" width="1.4" height="18.9" fill="#a6a6a6"/>
<rect x="528.3" y="535.3" width="3.5" height="18.9" fill="#000"/>
<rect x="526.6" y="535.3" width="7.3" height="2.3" fill="#000"/>
<rect x="526.6" y="551.9" width="7.3" height="2.3" fill="#000"/>
<rect x="545.9" y="535.3" width="1.6" height="18.9" fill="#cdcdcd"/>
<rect x="542.4" y="535.3" width="1.4" height="18.9" fill="#a6a6a6"/>
<rect x="538.9" y="535.3" width="3.5" height="18.9" fill="#000"/>
<rect x="537.2" y="535.3" width="7.3" height="2.3" fill="#000"/>
<rect x="537.2" y="551.9" width="7.3" height="2.3" fill="#000"/>
<rect x="556.5" y="535.3" width="1.6" height="18.9" fill="#cdcdcd"/>
<rect x="553.0" y="535.3" width="1.4" height="18.9" fill="#a6a6a6"/>
<rect x="549.5" y="535.3" width="3.5" height="18.9" fill="#000"/>
<rect x="547.8" y="535.3" width="7.3" height="2.3" fill="#000"/>
<rect x="547.8" y="551.9" width="7.3" height="2.3" fill="#000"/>
<rect x="567.1" y="535.3" width="1.6" height="18.9" fill="#cdcdcd"/>
<rect x="563.6" y="535.3" width="1.4" height="18.9" fill="#a6a6a6"/>
<rect x="560.1" y="535.3" width="3.5" height="18.9" fill="#000"/>
<rect x="558.4" y="535.3" width="7.3" height="2.3" fill="#000"/>
<rect x="558.4" y="551.9" width="7.3" height="2.3" fill="#000"/>
<rect x="574.2" y="535.3" width="1.4" height="18.9" fill="#a6a6a6"/>
<rect x="570.7" y="535.3" width="3.5" height="18.9" fill="#000"/>
<rect x="569.0" y="535.3" width="10.0" height="2.3" fill="#000"/>
<rect x="569.0" y="551.9" width="10.0" height="2.3" fill="#000"/>
<rect x="503.1" y="564.4" width="75.9" height="19.0" fill="#f3f3f3"/>
<rect x="504.5" y="564.4" width="1.6" height="19.0" fill="#b4b4b4"/>
<rect x="503.1" y="564.4" width="1.4" height="19.0" fill="#000"/>
<rect x="577.6" y="564.4" width="1.4" height="19.0" fill="#000"/>
<rect x="514.1" y="564.4" width="1.6" height="19.0" fill="#cdcdcd"/>
<rect x="510.6" y="564.4" width="1.4" height="19.0" fill="#a6a6a6"/>
<rect x="507.1" y="564.4" width="3.5" height="19.0" fill="#000"/>
<rect x="503.1" y="564.4" width="9.6" height="2.3" fill="#000"/>
<rect x="503.1" y="581.1" width="9.6" height="2.3" fill="#000"/>
<rect x="524.7" y="564.4" width="1.6" height="19.0" fill="#cdcdcd"/>
<rect x="521.2" y="564.4" width="1.4" height="19.0" fill="#a6a6a6"/>
<rect x="517.7" y="564.4" width="3.5" height="19.0" fill="#000"/>
<rect x="516.0" y="564.4" width="7.3" height="2.3" fill="#000"/>
<rect x="516.0" y="581.1" width="7.3" height="2.3" fill="#000"/>
<rect x="535.3" y="564.4" width="1.6" height="19.0" fill="#cdcdcd"/>
<rect x="531.8" y="564.4" width="1.4" height="19.0" fill="#a6a6a6"/>
<rect x="528.3" y="564.4" width="3.5" height="19.0" fill="#000"/>
<rect x="526.6" y="564.4" width="7.3" height="2.3" fill="#000"/>
<rect x="526.6" y="581.1" width="7.3" height="2.3" fill="#000"/>
<rect x="545.9" y="564.4" width="1.6" height="19.0" fill="#cdcdcd"/>
<rect x="542.4" y="564.4" width="1.4" height="19.0" fill="#a6a6a6"/>
<rect x="538.9" y="564.4" width="3.5" height="19.0" fill="#000"/>
<rect x="537.2" y="564.4" width="7.3" height="2.3" fill="#000"/>
<rect x="537.2" y="581.1" width="7.3" height="2.3" fill="#000"/>
<rect x="556.5" y="564.4" width="1.6" height="19.0" fill="#cdcdcd"/>
<rect x="553.0" y="564.4" width="1.4" height="19.0" fill="#a6a6a6"/>
<rect x="549.5" y="564.4" width="3.5" height="19.0" fill="#000"/>
<rect x="547.8" y="564.4" width="7.3" height="2.3" fill="#000"/>
<rect x="547.8" y="581.1" width="7.3" height="2.3" fill="#000"/>
<rect x="567.1" y="564.4" width="1.6" height="19.0" fill="#cdcdcd"/>
<rect x="563.6" y="564.4" width="1.4" height="19.0" fill="#a6a6a6"/>
<rect x="560.1" y="564.4" width="3.5" height="19.0" fill="#000"/>
<rect x="558.4" y="564.4" width="7.3" height="2.3" fill="#000"/>
<rect x="558.4" y="581.1" width="7.3" height="2.3" fill="#000"/>
<rect x="574.2" y="564.4" width="1.4" height="19.0" fill="#a6a6a6"/>
<rect x="570.7" y="564.4" width="3.5" height="19.0" fill="#000"/>
<rect x="569.0" y="564.4" width="10.0" height="2.3" fill="#000"/>
<rect x="569.0" y="581.1" width="10.0" height="2.3" fill="#000"/>
<rect x="600" y="142.9" width="60.5" height="2" fill="#c4c4c4"/>
<text x="669.5" y="153.5" font-family="Liberation Serif"   font-size="25" fill="#a4a4a4" textLength="37.3" lengthAdjust="spacingAndGlyphs">850</text>
<rect x="600" y="179.1" width="60.5" height="2" fill="#c4c4c4"/>
<text x="669.5" y="184.0" font-family="Liberation Serif"   font-size="25" fill="#a4a4a4" textLength="37.3" lengthAdjust="spacingAndGlyphs">776</text>
<rect x="600" y="209.0" width="60.5" height="2" fill="#c4c4c4"/>
<text x="669.5" y="218.9" font-family="Liberation Serif"   font-size="25" fill="#a4a4a4" textLength="37.3" lengthAdjust="spacingAndGlyphs">714</text>
<rect x="600" y="239.9" width="60.5" height="2" fill="#c4c4c4"/>
<text x="669.5" y="248.0" font-family="Liberation Serif"   font-size="25" fill="#a4a4a4" textLength="37.3" lengthAdjust="spacingAndGlyphs">652</text>
<rect x="600" y="273.4" width="60.5" height="2" fill="#c4c4c4"/>
<text x="669.5" y="285.1" font-family="Liberation Serif"   font-size="25" fill="#a4a4a4" textLength="37.3" lengthAdjust="spacingAndGlyphs">590</text>
<rect x="600" y="306.0" width="60.5" height="2" fill="#c4c4c4"/>
<text x="669.5" y="315.1" font-family="Liberation Serif"   font-size="25" fill="#a4a4a4" textLength="37.3" lengthAdjust="spacingAndGlyphs">528</text>
<rect x="600" y="340.1" width="60.5" height="2" fill="#c4c4c4"/>
<text x="669.5" y="349.1" font-family="Liberation Serif"   font-size="25" fill="#a4a4a4" textLength="37.3" lengthAdjust="spacingAndGlyphs">466</text>
<rect x="600" y="372.1" width="60.5" height="2" fill="#c4c4c4"/>
<text x="669.5" y="379.1" font-family="Liberation Serif"   font-size="25" fill="#a4a4a4" textLength="37.3" lengthAdjust="spacingAndGlyphs">404</text>
<rect x="600" y="422.0" width="60.5" height="2" fill="#c4c4c4"/>
<text x="669.5" y="436.3" font-family="Liberation Serif"   font-size="25" fill="#a4a4a4" textLength="37.3" lengthAdjust="spacingAndGlyphs">333</text>
<rect x="600" y="454.6" width="60.5" height="2" fill="#c4c4c4"/>
<text x="669.5" y="465.5" font-family="Liberation Serif"   font-size="25" fill="#a4a4a4" textLength="37.3" lengthAdjust="spacingAndGlyphs">271</text>
<rect x="600" y="487.2" width="60.5" height="2" fill="#c4c4c4"/>
<text x="669.5" y="495.3" font-family="Liberation Serif"   font-size="25" fill="#a4a4a4" textLength="37.3" lengthAdjust="spacingAndGlyphs">209</text>
<rect x="600" y="519.6" width="60.5" height="2" fill="#c4c4c4"/>
<text x="669.5" y="525.9" font-family="Liberation Serif"   font-size="25" fill="#a4a4a4" textLength="37.3" lengthAdjust="spacingAndGlyphs">147</text>
<rect x="600" y="551.7" width="60.5" height="2" fill="#c4c4c4"/>
<text x="669.5" y="559.7" font-family="Liberation Serif"   font-size="25" fill="#a4a4a4" textLength="25.0" lengthAdjust="spacingAndGlyphs">85</text>
<rect x="600" y="583.2" width="60.5" height="2" fill="#c4c4c4"/>
<text x="669.5" y="590.5" font-family="Liberation Serif"   font-size="25" fill="#a4a4a4" textLength="25.0" lengthAdjust="spacingAndGlyphs">23</text>
<rect x="600" y="607.6" width="60.5" height="2" fill="#c4c4c4"/>
<text x="669.5" y="620.8" font-family="Liberation Serif"   font-size="25" fill="#a4a4a4" textLength="12.5" lengthAdjust="spacingAndGlyphs">0</text>
<rect x="126.6" y="615.5" width="1.6" height="84.0" fill="#c4c4c4"/>
<rect x="430.1" y="616.0" width="1.6" height="97.8" fill="#c4c4c4"/>
<rect x="490.0" y="608.0" width="1.6" height="142.0" fill="#c4c4c4"/>
<rect x="503.2" y="608.0" width="1.6" height="172.3" fill="#c4c4c4"/>
<rect x="575.8" y="609.0" width="1.6" height="65.0" fill="#c4c4c4"/>
<rect x="575.8" y="697.0" width="1.6" height="111.2" fill="#c4c4c4"/>
<rect x="588.2" y="608.0" width="1.6" height="235.0" fill="#c4c4c4"/>
<rect x="69.2" y="688.2" width="48.0" height="2" fill="#c4c4c4"/>
<path d="M112.2 681.7 L127.2 689.2 L112.2 696.7 Z" fill="#bdbdbd"/>
<rect x="380.4" y="701.3" width="40.5" height="2" fill="#c4c4c4"/>
<path d="M415.9 694.8 L430.9 702.3 L415.9 709.8 Z" fill="#bdbdbd"/>
<rect x="436.6" y="735.9" width="44.2" height="2" fill="#c4c4c4"/>
<path d="M475.8 729.4 L490.8 736.9 L475.8 744.4 Z" fill="#bdbdbd"/>
<rect x="449.6" y="765.6" width="44.2" height="2" fill="#c4c4c4"/>
<path d="M488.8 759.1 L503.8 766.6 L488.8 774.1 Z" fill="#bdbdbd"/>
<rect x="524.0" y="795.6" width="42.0" height="2" fill="#c4c4c4"/>
<path d="M561.0 789.1 L576.0 796.6 L561.0 804.1 Z" fill="#bdbdbd"/>
<rect x="539.0" y="830.4" width="39.7" height="2" fill="#c4c4c4"/>
<path d="M573.7 823.9 L588.7 831.4 L573.7 838.9 Z" fill="#bdbdbd"/>
<text x="30.4" y="697.5" font-family="Liberation Serif"   font-size="25" fill="#a4a4a4" textLength="36.0" lengthAdjust="spacingAndGlyphs">129</text>
<text x="343.0" y="709.0" font-family="Liberation Serif"   font-size="25" fill="#a4a4a4" textLength="36.0" lengthAdjust="spacingAndGlyphs">169</text>
<text x="396.9" y="742.7" font-family="Liberation Serif"   font-size="25" fill="#a4a4a4" textLength="36.8" lengthAdjust="spacingAndGlyphs">214</text>
<text x="410.0" y="772.3" font-family="Liberation Serif"   font-size="25" fill="#a4a4a4" textLength="37.6" lengthAdjust="spacingAndGlyphs">216</text>
<text x="485.0" y="804.9" font-family="Liberation Serif"   font-size="25" fill="#a4a4a4" textLength="37.3" lengthAdjust="spacingAndGlyphs">248</text>
<text x="500.0" y="838.9" font-family="Liberation Serif"   font-size="25" fill="#a4a4a4" textLength="37.3" lengthAdjust="spacingAndGlyphs">255</text>
<rect x="126.6" y="652.4" width="1.8" height="2" fill="#000"/><rect x="126.6" y="656" width="1.8" height="9" fill="#000"/>
<path d="M143.1 67.2 L131.0 131.8" stroke="#000" stroke-width="1.6" fill="none"/>
<path d="M214.7 122.0 L206.3 135.6" stroke="#000" stroke-width="1.6" fill="none"/>
<path d="M360.5 65.0 L390.8 150.3" stroke="#000" stroke-width="1.6" fill="none"/>
<path d="M435.3 111.6 L427.0 150.3" stroke="#000" stroke-width="1.6" fill="none"/>
<path d="M456.8 137.2 L434.6 170.4" stroke="#000" stroke-width="1.6" fill="none"/>
<path d="M579.5 88.1 L508.5 163.6" stroke="#000" stroke-width="1.6" fill="none"/>
<path d="M618.2 116.0 L569.6 163.6" stroke="#000" stroke-width="1.6" fill="none"/>
<path d="M409.8 556.6 L470.0 661.0" stroke="#000" stroke-width="1.6" fill="none"/>
<path d="M563.5 603.6 L574.9 632.7" stroke="#000" stroke-width="1.6" fill="none"/>
<text x="64.6" y="36.3" font-family="Liberation Serif"  font-size="25.0" fill="#000" stroke="#000" stroke-width="0.45" textLength="140.4" lengthAdjust="spacingAndGlyphs">Nomex-Mylar</text>
<text x="49.4" y="59.3" font-family="Liberation Serif"  font-size="25.0" fill="#000" stroke="#000" stroke-width="0.45" textLength="77.8" lengthAdjust="spacingAndGlyphs">cylinder</text>
<text x="134.6" y="63.2" font-family="Liberation Serif"   font-size="25.0" fill="#1a1a1a"  textLength="94.9" lengthAdjust="spacingAndGlyphs">0.41×875</text>
<text x="156.6" y="95.7" font-family="Liberation Serif"  font-size="25.0" fill="#000" stroke="#000" stroke-width="0.45" textLength="102.1" lengthAdjust="spacingAndGlyphs">Edge Band</text>
<text x="177.3" y="119.8" font-family="Liberation Serif"   font-size="25.0" fill="#1a1a1a"  textLength="68.9" lengthAdjust="spacingAndGlyphs">0.7×30</text>
<text x="276.1" y="23.2" font-family="Liberation Serif"  font-size="25.0" fill="#000" stroke="#000" stroke-width="0.45" textLength="91.2" lengthAdjust="spacingAndGlyphs">Dmd Foil</text>
<text x="260.6" y="48.8" font-family="Liberation Serif"   font-size="25.0" fill="#1a1a1a"  textLength="136.6" lengthAdjust="spacingAndGlyphs">(6×0.13)×877</text>
<text x="378.9" y="82.9" font-family="Liberation Serif"  font-size="25.0" fill="#000" stroke="#000" stroke-width="0.45" textLength="91.1" lengthAdjust="spacingAndGlyphs">Dmd Foil</text>
<text x="374.0" y="103.9" font-family="Liberation Serif"   font-size="25.0" fill="#1a1a1a"  textLength="95.4" lengthAdjust="spacingAndGlyphs">0.13×877</text>
<text x="503.8" y="60.9" font-family="Liberation Serif"  font-size="25.0" fill="#000" stroke="#000" stroke-width="0.45" textLength="145.7" lengthAdjust="spacingAndGlyphs">Aluminum Foil</text>
<text x="536.0" y="85.5" font-family="Liberation Serif"   font-size="25.0" fill="#1a1a1a"  textLength="69.4" lengthAdjust="spacingAndGlyphs">0.2×50</text>
<text x="612.3" y="94.9" font-family="Liberation Serif"  font-size="25.0" fill="#000" stroke="#000" stroke-width="0.45" textLength="103.4" lengthAdjust="spacingAndGlyphs">Mylar Foil</text>
<text x="619.6" y="115.4" font-family="Liberation Serif"   font-size="25.0" fill="#1a1a1a"  textLength="93.0" lengthAdjust="spacingAndGlyphs">0.023×56</text>
<text x="165.3" y="667.0" font-family="Liberation Serif"  font-size="25.0" fill="#000" stroke="#000" stroke-width="0.45" textLength="95.3" lengthAdjust="spacingAndGlyphs">Dog Bone</text>
<text x="157.2" y="693.0" font-family="Liberation Serif"  font-size="25.0" fill="#000" stroke="#000" stroke-width="0.45" textLength="111.5" lengthAdjust="spacingAndGlyphs">14*16*870</text>
<text x="392.4" y="674.7" font-family="Liberation Serif"  font-size="25.0" fill="#000" stroke="#000" stroke-width="0.45" textLength="146.9" lengthAdjust="spacingAndGlyphs">Aluminum Foil</text>
<text x="429.8" y="699.6" font-family="Liberation Serif"   font-size="25.0" fill="#1a1a1a"  textLength="79.6" lengthAdjust="spacingAndGlyphs">1.2×820</text>
<text x="556.0" y="667.0" font-family="Liberation Serif"  font-size="25.0" fill="#000" stroke="#000" stroke-width="0.45" textLength="124.0" lengthAdjust="spacingAndGlyphs">Casted Resin</text>
<text transform="translate(468.4,113.2) rotate(90)" font-family="Liberation Serif"  font-size="25.0" stroke="#000" stroke-width="0.45" textLength="134.1" lengthAdjust="spacingAndGlyphs">Impregnated</text>
<text transform="translate(446.0,155.5) rotate(90)" font-family="Liberation Serif"  font-size="25.0" stroke="#000" stroke-width="0.45" textLength="53.5" lengthAdjust="spacingAndGlyphs">Resin</text>
<text transform="translate(451.0,253.1) rotate(90)" font-family="Liberation Serif"  font-size="25.0" stroke="#000" stroke-width="0.45" textLength="47.8" lengthAdjust="spacingAndGlyphs">duct</text>
<text transform="translate(451.0,307.0) rotate(90)" font-family="Liberation Serif"  font-size="25.0" stroke="#000" stroke-width="0.45" textLength="12.3" lengthAdjust="spacingAndGlyphs">3</text>
<text transform="translate(451.0,329.1) rotate(90)" font-family="Liberation Serif"  font-size="25.0" stroke="#000" stroke-width="0.45" textLength="4.0" lengthAdjust="spacingAndGlyphs">:</text>
<text transform="translate(451.0,339.1) rotate(90)" font-family="Liberation Serif"  font-size="25.0" stroke="#000" stroke-width="0.45" textLength="81.9" lengthAdjust="spacingAndGlyphs">between</text>
<text transform="translate(451.0,426.0) rotate(90)" font-family="Liberation Serif"  font-size="25.0" stroke="#000" stroke-width="0.45" textLength="31.7" lengthAdjust="spacingAndGlyphs">LV</text>
<text transform="translate(451.0,463.9) rotate(90)" font-family="Liberation Serif"  font-size="25.0" stroke="#000" stroke-width="0.45" textLength="34.9" lengthAdjust="spacingAndGlyphs">and</text>
<text transform="translate(451.0,503.6) rotate(90)" font-family="Liberation Serif"  font-size="25.0" stroke="#000" stroke-width="0.45" textLength="33.0" lengthAdjust="spacingAndGlyphs">HV</text>
<text transform="translate(67.8,228.0) rotate(90)" font-family="Liberation Serif"  font-size="25.0" stroke="#000" stroke-width="0.45" textLength="49.5" lengthAdjust="spacingAndGlyphs">duct</text>
<text transform="translate(67.8,286.4) rotate(90)" font-family="Liberation Serif"  font-size="25.0" stroke="#000" stroke-width="0.45" textLength="6.7" lengthAdjust="spacingAndGlyphs">1</text>
<text transform="translate(67.8,303.1) rotate(90)" font-family="Liberation Serif"  font-size="25.0" stroke="#000" stroke-width="0.45" textLength="4.0" lengthAdjust="spacingAndGlyphs">:</text>
<text transform="translate(67.8,310.6) rotate(90)" font-family="Liberation Serif"  font-size="25.0" stroke="#000" stroke-width="0.45" textLength="81.1" lengthAdjust="spacingAndGlyphs">between</text>
<text transform="translate(67.8,397.5) rotate(90)" font-family="Liberation Serif"  font-size="25.0" stroke="#000" stroke-width="0.45" textLength="43.3" lengthAdjust="spacingAndGlyphs">core</text>
<text transform="translate(67.8,447.8) rotate(90)" font-family="Liberation Serif"  font-size="25.0" stroke="#000" stroke-width="0.45" textLength="35.4" lengthAdjust="spacingAndGlyphs">and</text>
<text transform="translate(67.8,487.5) rotate(90)" font-family="Liberation Serif"  font-size="25.0" stroke="#000" stroke-width="0.45" textLength="31.9" lengthAdjust="spacingAndGlyphs">LV</text>
<text transform="translate(246.6,250.2) rotate(90)" font-family="Liberation Serif"  font-size="25.0" stroke="#000" stroke-width="0.45" textLength="49.4" lengthAdjust="spacingAndGlyphs">duct</text>
<text transform="translate(246.6,305.7) rotate(90)" font-family="Liberation Serif"  font-size="25.0" stroke="#000" stroke-width="0.45" textLength="11.0" lengthAdjust="spacingAndGlyphs">2</text>
<text transform="translate(246.6,325.6) rotate(90)" font-family="Liberation Serif"  font-size="25.0" stroke="#000" stroke-width="0.45" textLength="4.0" lengthAdjust="spacingAndGlyphs">:</text>
<text transform="translate(246.6,338.5) rotate(90)" font-family="Liberation Serif"  font-size="25.0" stroke="#000" stroke-width="0.45" textLength="80.3" lengthAdjust="spacingAndGlyphs">between</text>
<text transform="translate(246.6,426.4) rotate(90)" font-family="Liberation Serif"  font-size="25.0" stroke="#000" stroke-width="0.45" textLength="30.9" lengthAdjust="spacingAndGlyphs">LV</text>
<text transform="translate(246.6,463.4) rotate(90)" font-family="Liberation Serif"  font-size="25.0" stroke="#000" stroke-width="0.45" textLength="56.8" lengthAdjust="spacingAndGlyphs">layers</text></svg>
</body></html>
